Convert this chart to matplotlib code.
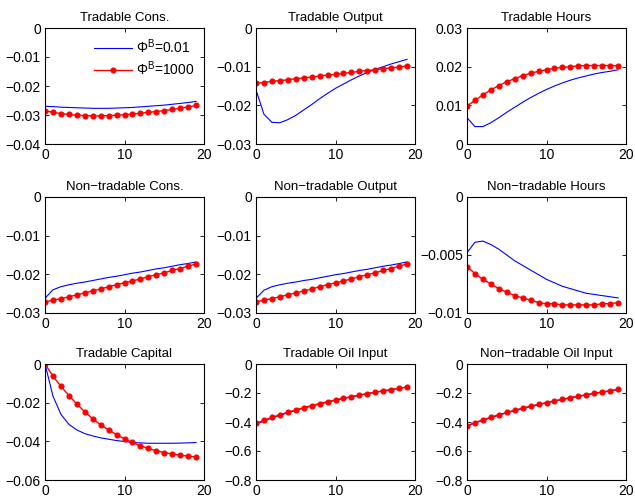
import matplotlib
matplotlib.use("Agg")
import matplotlib.pyplot as plt
import numpy as np

plt.rcParams['font.family'] = ['Liberation Sans', 'DejaVu Sans']
plt.rcParams['font.size'] = 10
plt.rcParams['mathtext.fontset'] = 'custom'
plt.rcParams['mathtext.rm'] = 'Liberation Sans'
plt.rcParams['mathtext.it'] = 'Liberation Sans:italic'

periods = np.arange(20)

titles = ["Tradable Cons.", "Tradable Output", "Tradable Hours",
          "Non\u2212tradable Cons.", "Non\u2212tradable Output",
          "Non\u2212tradable Hours",
          "Tradable Capital", "Tradable Oil Input", "Non\u2212tradable Oil Input"]

legend_labels = [r"$\mathrm{\Phi}^{\mathrm{B}}$=0.01", r"$\mathrm{\Phi}^{\mathrm{B}}$=1000"]

# impulse responses, low adjustment cost (phi_b = 0.01)
low_cost = [
    [-0.0270, -0.0271, -0.0273, -0.0274, -0.0275, -0.0276, -0.0277, -0.0277, -0.0277, -0.0276,
     -0.0275, -0.0274, -0.0272, -0.0270, -0.0268, -0.0266, -0.0263, -0.0260, -0.0257, -0.0253],
    [-0.0160, -0.0223, -0.0244, -0.0245, -0.0237, -0.0226, -0.0212, -0.0198, -0.0183, -0.0169,
     -0.0156, -0.0145, -0.0134, -0.0124, -0.0115, -0.0107, -0.0100, -0.0093, -0.0087, -0.0081],
    [0.0068, 0.0045, 0.0045, 0.0055, 0.0068, 0.0082, 0.0095, 0.0108, 0.0120, 0.0131,
     0.0141, 0.0150, 0.0158, 0.0165, 0.0171, 0.0176, 0.0181, 0.0185, 0.0188, 0.0192],
    [-0.0262, -0.0240, -0.0232, -0.0227, -0.0223, -0.0220, -0.0216, -0.0212, -0.0208, -0.0205,
     -0.0201, -0.0197, -0.0194, -0.0190, -0.0186, -0.0183, -0.0179, -0.0175, -0.0172, -0.0168],
    [-0.0262, -0.0241, -0.0232, -0.0227, -0.0223, -0.0220, -0.0216, -0.0213, -0.0209, -0.0205,
     -0.0201, -0.0198, -0.0194, -0.0190, -0.0187, -0.0183, -0.0179, -0.0176, -0.0172, -0.0168],
    [-0.0048, -0.0039, -0.0038, -0.0041, -0.0045, -0.0050, -0.0055, -0.0059, -0.0063, -0.0067,
     -0.0071, -0.0074, -0.0077, -0.0079, -0.0081, -0.0083, -0.0084, -0.0085, -0.0086, -0.0087],
    [0.0, -0.0166, -0.0260, -0.0312, -0.0341, -0.0360, -0.0372, -0.0382, -0.0389, -0.0396,
     -0.0401, -0.0406, -0.0408, -0.0410, -0.0410, -0.0410, -0.0410, -0.0409, -0.0408, -0.0406],
    [-0.415, -0.393, -0.372, -0.354, -0.337, -0.320, -0.304, -0.290, -0.276, -0.263,
     -0.250, -0.238, -0.227, -0.216, -0.205, -0.195, -0.186, -0.177, -0.168, -0.159],
    [-0.428, -0.407, -0.388, -0.370, -0.353, -0.337, -0.322, -0.307, -0.294, -0.281,
     -0.268, -0.256, -0.245, -0.234, -0.224, -0.214, -0.204, -0.195, -0.186, -0.177],
]

# impulse responses, high adjustment cost (phi_b = 1000)
high_cost = [
    [-0.0285, -0.0291, -0.0295, -0.0298, -0.0301, -0.0302, -0.0303, -0.0303, -0.0302, -0.0301,
     -0.0299, -0.0297, -0.0294, -0.0291, -0.0288, -0.0285, -0.0281, -0.0277, -0.0272, -0.0267],
    [-0.0143, -0.0141, -0.0138, -0.0136, -0.0134, -0.0131, -0.0129, -0.0127, -0.0124, -0.0122,
     -0.0120, -0.0117, -0.0115, -0.0112, -0.0110, -0.0108, -0.0105, -0.0103, -0.0101, -0.0098],
    [0.0098, 0.0113, 0.0127, 0.0140, 0.0151, 0.0161, 0.0169, 0.0177, 0.0183, 0.0188,
     0.0192, 0.0196, 0.0198, 0.0200, 0.0202, 0.0203, 0.0203, 0.0203, 0.0203, 0.0202],
    [-0.0271, -0.0267, -0.0263, -0.0258, -0.0253, -0.0248, -0.0243, -0.0238, -0.0232, -0.0227,
     -0.0222, -0.0217, -0.0212, -0.0206, -0.0201, -0.0196, -0.0190, -0.0185, -0.0179, -0.0173],
    [-0.0271, -0.0267, -0.0263, -0.0258, -0.0253, -0.0248, -0.0243, -0.0238, -0.0232, -0.0227,
     -0.0222, -0.0217, -0.0212, -0.0206, -0.0201, -0.0196, -0.0190, -0.0185, -0.0179, -0.0173],
    [-0.0060, -0.0066, -0.0071, -0.0075, -0.0079, -0.0082, -0.0085, -0.0087, -0.0089, -0.0091,
     -0.0092, -0.0092, -0.0093, -0.0093, -0.0093, -0.0093, -0.0093, -0.0092, -0.0092, -0.0091],
    [0.0, -0.0063, -0.0115, -0.0163, -0.0207, -0.0247, -0.0283, -0.0315, -0.0341, -0.0365,
     -0.0387, -0.0406, -0.0423, -0.0437, -0.0449, -0.0458, -0.0466, -0.0471, -0.0477, -0.0480],
    [-0.410, -0.388, -0.368, -0.350, -0.333, -0.317, -0.301, -0.287, -0.273, -0.260,
     -0.248, -0.236, -0.225, -0.214, -0.204, -0.194, -0.185, -0.176, -0.167, -0.159],
    [-0.425, -0.404, -0.385, -0.367, -0.350, -0.334, -0.319, -0.304, -0.291, -0.278,
     -0.266, -0.254, -0.243, -0.232, -0.222, -0.212, -0.202, -0.193, -0.184, -0.175],
]

y_limits = [(-0.04, 0), (-0.03, 0), (0, 0.03),
            (-0.03, 0), (-0.03, 0), (-0.01, 0),
            (-0.06, 0), (-0.8, 0), (-0.8, 0)]
y_ticks = [[-0.04, -0.03, -0.02, -0.01, 0],
           [-0.03, -0.02, -0.01, 0],
           [0, 0.01, 0.02, 0.03],
           [-0.03, -0.02, -0.01, 0],
           [-0.03, -0.02, -0.01, 0],
           [-0.01, -0.005, 0],
           [-0.06, -0.04, -0.02, 0],
           [-0.8, -0.6, -0.4, -0.2, 0],
           [-0.8, -0.6, -0.4, -0.2, 0]]


def tick_text(v):
    s = ("%g" % v) if v != 0 else "0"
    return s.replace("-", "\u2212")


fig = plt.figure(figsize=(6.35, 4.99), dpi=100)
W, H = 635.0, 499.0
lefts = [45, 256, 467]
tops = [28, 197, 364]
aw, ah = 159, 116

for i in range(9):
    r, c = divmod(i, 3)
    ax = fig.add_axes([lefts[c] / W, 1 - (tops[r] + ah) / H, aw / W, ah / H])
    ax.plot(periods, low_cost[i], color="#0000ff", lw=0.8, label=legend_labels[0])
    ax.plot(periods, high_cost[i], color="#ff0000", lw=1.0, marker="o",
            markersize=3.4, label=legend_labels[1])
    ax.set_xlim(0, 20)
    ax.set_ylim(*y_limits[i])
    ax.set_xticks([0, 10, 20])
    ax.set_yticks(y_ticks[i])
    ax.set_yticklabels([tick_text(v) for v in y_ticks[i]])
    ax.tick_params(direction="in", top=True, right=True, length=3, width=0.6,
                   labelsize=10, pad=3)
    for sp in ax.spines.values():
        sp.set_linewidth(0.8)
    ax.set_title(titles[i], fontsize=9.5, pad=5)
    if i == 0:
        ax.legend(loc="upper right", frameon=False, fontsize=10, numpoints=1,
                  handlelength=2.7, borderaxespad=0.3, labelspacing=0.2,
                  handletextpad=0.3, bbox_to_anchor=(1.0, 1.0))

fig.savefig("out.png", dpi=100)
